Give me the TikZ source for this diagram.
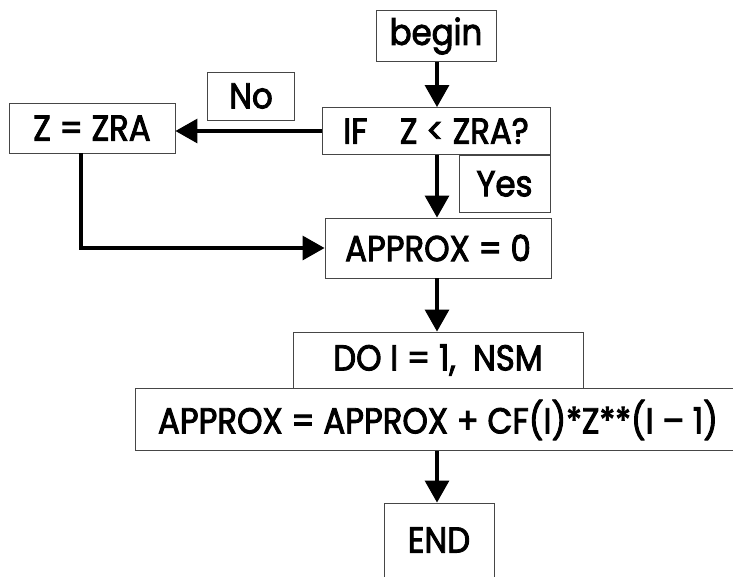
\documentclass[tikz,border=0pt]{standalone}
\usepackage{fontspec}
\setmainfont{Poppins}[FakeStretch=0.9,FakeBold=2.5]
\usetikzlibrary{arrows.meta}
\begin{document}
\begin{tikzpicture}[x=1pt,y=-1pt,>={Triangle[length=22pt,width=24pt]},font=\fontsize{36}{40}\selectfont]
\definecolor{boxline}{RGB}{70,70,70}
\tikzset{box/.style={draw=boxline,line width=0.9pt,inner sep=0pt,align=center},
  flow/.style={->,line width=3.2pt,black}}
\useasboundingbox (0,0) rectangle (733,576);
\clip (0,0) rectangle (733,576);
\node[box,minimum width=120pt,minimum height=51pt] (begin) at (436,36) {begin};
\node[box,minimum width=228pt,minimum height=47pt] (if) at (436,131) {IF\hspace{0.9em}Z < ZRA?};
\node[box,minimum width=91pt,minimum height=57pt,anchor=north east] (yes) at (if.south east) {Yes};
\node[box,minimum width=87pt,minimum height=48pt] (no) at (251,96) {No};
\node[box,minimum width=166pt,minimum height=50pt] (zra) at (92,128) {Z = ZRA};
\node[box,minimum width=226pt,minimum height=60pt] (approx0) at (438,248) {APPROX = 0};
\node[box,minimum width=290pt,minimum height=56pt] (do) at (438,360) {DO I = 1,\ \ NSM};
\node[box,minimum width=606pt,minimum height=62pt,anchor=north] (sum) at (do.south -| 438,0) {APPROX = APPROX + CF(I)*Z**(I -- 1)};
\node[box,minimum width=110pt,minimum height=74pt] (end) at (439,540) {END};
\draw[flow] (begin.south -| 437,0) -- (if.north -| 437,0);
\draw[flow] (if.west) -- (if.west -| zra.east);
\draw[flow] ([xshift=-11pt]zra.south) |- (approx0.west);
\draw[flow] (if.south -| 437,0) -- (approx0.north -| 437,0);
\draw[flow] (approx0.south -| 437,0) -- (do.north -| 437,0);
\draw[flow] (sum.south -| 437,0) -- (end.north -| 437,0);
\end{tikzpicture}
\end{document}
